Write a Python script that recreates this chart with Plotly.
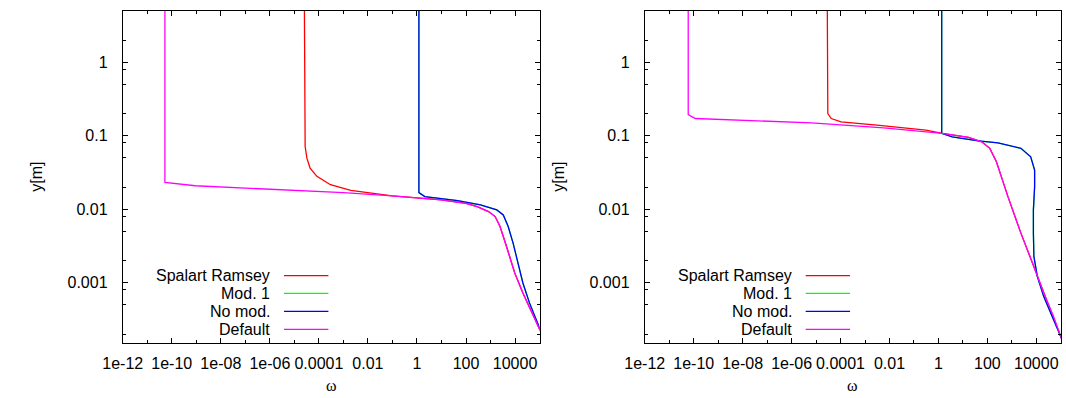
import plotly.graph_objects as go

# ---------------- data ----------------
# Left panel
L_default_x = [5.25e-11, 5.25e-11, 9.1e-10, 1e-6, 1e-3, 0.098, 9.8, 100, 286, 832, 1542, 2443, 4529, 9727, 20893, 45290, 91201, 199526]
L_default_y = [5.0, 0.0232, 0.0209, 0.0187, 0.01687, 0.0152, 0.01343, 0.0120, 0.01089, 0.00931, 0.00796, 0.00582, 0.00312, 0.001358, 0.000728, 0.000409, 0.000244, 0.000141]

L_spalart_x = [2.57e-5, 2.57e-5, 2.75e-5, 3.24e-5, 4.37e-5, 8.3e-5, 2.95e-4, 2.0e-3, 0.0182, 0.098, 9.8, 100, 286, 832, 1542, 2443, 4529, 9727, 20893, 45290, 91201, 199526]
L_spalart_y = [5.0, 0.108, 0.0716, 0.0497, 0.0364, 0.0281, 0.0216, 0.0181, 0.0163, 0.0152, 0.01343, 0.0120, 0.01089, 0.00931, 0.00796, 0.00582, 0.00312, 0.001358, 0.000728, 0.000409, 0.000244, 0.000141]

L_nomod_x = [1.2, 1.2, 2.09, 45.3, 387, 1803, 3311, 5248, 8318, 13183, 20893, 38726, 91201, 199526]
L_nomod_y = [5.0, 0.01687, 0.01486, 0.01312, 0.01148, 0.00982, 0.00839, 0.00582, 0.00347, 0.001858, 0.000993, 0.000532, 0.000256, 0.000138]
L_mod1_x = L_nomod_x
L_mod1_y = L_nomod_y

# Right panel
R_default_x = [5.97e-11, 5.97e-11, 1.17e-10, 6.6e-6, 5.75e-3, 1.45, 17.0, 58.9, 126, 234, 692, 2344, 7943, 19953, 50119, 109648, 199526]
R_default_y = [5.0, 0.195, 0.172, 0.150, 0.1285, 0.1079, 0.0951, 0.0830, 0.0675, 0.0444, 0.01486, 0.00474, 0.00167, 0.000728, 0.00035, 0.00017, 0.000112]

R_spalart_x = [2.88e-5, 2.88e-5, 3.02e-5, 4.17e-5, 1.05e-4, 3.09e-3, 0.309, 1.45, 17.0, 58.9, 126, 234, 692, 2344, 7943, 19953, 50119, 109648, 199526]
R_spalart_y = [5.0, 0.251, 0.201, 0.172, 0.155, 0.1396, 0.1194, 0.1079, 0.0951, 0.0830, 0.0675, 0.0444, 0.01486, 0.00474, 0.00167, 0.000728, 0.00035, 0.00017, 0.000112]

R_nomod_x = [1.36, 1.36, 3.64, 42.9, 272, 2344, 5888, 8511, 8511, 7586, 7586, 7943, 10965, 19953, 50119, 109648, 199526]
R_nomod_y = [5.0, 0.1079, 0.0970, 0.0855, 0.0804, 0.0675, 0.0519, 0.0343, 0.0203, 0.00982, 0.00474, 0.00228, 0.00122, 0.000653, 0.000316, 0.00017, 0.000108]
R_mod1_x = R_nomod_x
R_mod1_y = R_nomod_y

series_names = ["Spalart Ramsey", "Mod. 1", "No mod.", "Default"]
series_colors = ["#ff0000", "#00ff00", "#0000ff", "#ff00ff"]

x_tick_vals = [1e-12, 1e-10, 1e-8, 1e-6, 1e-4, 1e-2, 1, 100, 1e4]
x_tick_text = ["1e-12", "1e-10", "1e-08", "1e-06", "0.0001", "0.01", "1", "100", "10000"]
x_minor_vals = [1e-11, 1e-9, 1e-7, 1e-5, 1e-3, 1e-1, 10, 1000]
y_tick_vals = [0.001, 0.01, 0.1, 1]
y_tick_text = ["0.001", "0.01", "0.1", "1"]
y_minor_vals = [m * 10.0 ** e for e in range(-4, 1) for m in (2, 5, 8)]

# ---------------- figure ----------------
W, H = 1066, 398
fig = go.Figure()

panels = [
    ("x", "y", [(L_spalart_x, L_spalart_y), (L_mod1_x, L_mod1_y), (L_nomod_x, L_nomod_y), (L_default_x, L_default_y)]),
    ("x2", "y2", [(R_spalart_x, R_spalart_y), (R_mod1_x, R_mod1_y), (R_nomod_x, R_nomod_y), (R_default_x, R_default_y)]),
]
for xa, ya, ser in panels:
    for (sx, sy), name, col in zip(ser, series_names, series_colors):
        fig.add_trace(go.Scatter(x=sx, y=sy, mode="lines", name=name, xaxis=xa, yaxis=ya,
                                 line=dict(color=col, width=1.3), showlegend=False))

font = dict(family="Liberation Sans, Arial, sans-serif", size=16, color="black")

def xaxis_cfg(domain, anchor):
    return dict(type="log", domain=domain, anchor=anchor,
                range=[-12, 5], tickmode="array", tickvals=x_tick_vals, ticktext=x_tick_text,
                ticks="inside", ticklen=5, tickwidth=1, tickcolor="black",
                showline=True, linecolor="black", linewidth=1, mirror="allticks",
                showgrid=False, zeroline=False, tickfont=font, ticklabelstandoff=5,
                minor=dict(tickmode="array", tickvals=x_minor_vals, ticks="inside", ticklen=3,
                           tickcolor="black", tickwidth=1, showgrid=False))

def yaxis_cfg(anchor):
    return dict(type="log", domain=[1 - 343.3 / H, 1 - 11 / H], anchor=anchor,
                range=[-3.8239, 0.69897], tickmode="array", tickvals=y_tick_vals, ticktext=y_tick_text,
                ticks="inside", ticklen=5, tickwidth=1, tickcolor="black",
                showline=True, linecolor="black", linewidth=1, mirror="allticks",
                showgrid=False, zeroline=False, tickfont=font, ticklabelstandoff=11,
                minor=dict(tickmode="array", tickvals=y_minor_vals, ticks="inside", ticklen=3,
                           tickcolor="black", tickwidth=1, showgrid=False))

fig.update_layout(
    width=W, height=H, margin=dict(l=0, r=0, t=0, b=0),
    paper_bgcolor="white", plot_bgcolor="white",
    font=font, showlegend=False,
    xaxis=xaxis_cfg([104.7 / W, 529.5 / W], "y"),
    yaxis=yaxis_cfg("x"),
    xaxis2=xaxis_cfg([636.7 / W, 1060.7 / W], "y2"),
    yaxis2=yaxis_cfg("x2"),
)

annotations = []
shapes = []
# axis titles
for xc in (317 / W, 848.7 / W):
    annotations.append(dict(text="ω", x=xc, y=1 - 385 / H, xref="paper", yref="paper",
                            showarrow=False, xanchor="center", yanchor="middle",
                            font=dict(family="Liberation Serif, Times New Roman, serif", size=16, color="black")))
for xc in (16 / W, 548 / W):
    annotations.append(dict(text="y[m]", x=xc, y=1 - 177 / H, xref="paper", yref="paper",
                            showarrow=False, textangle=-90, xanchor="center", yanchor="middle", font=font))

# gnuplot-style key: text right-aligned, sample line to the right
key_rows_y = [0.2034, 0.1505, 0.0963, 0.0421]
for xa, ya in (("x", "y"), ("x2", "y2")):
    for name, col, ry in zip(series_names, series_colors, key_rows_y):
        annotations.append(dict(text=name, x=0.3578, y=ry, xref=f"{xa} domain", yref=f"{ya} domain",
                                showarrow=False, xanchor="right", yanchor="middle", font=font))
        shapes.append(dict(type="line", x0=0.3868, x1=0.4934, y0=ry, y1=ry,
                           xref=f"{xa} domain", yref=f"{ya} domain",
                           line=dict(color=col, width=1.3)))

fig.update_layout(annotations=annotations, shapes=shapes)
fig.write_html("out.html")
